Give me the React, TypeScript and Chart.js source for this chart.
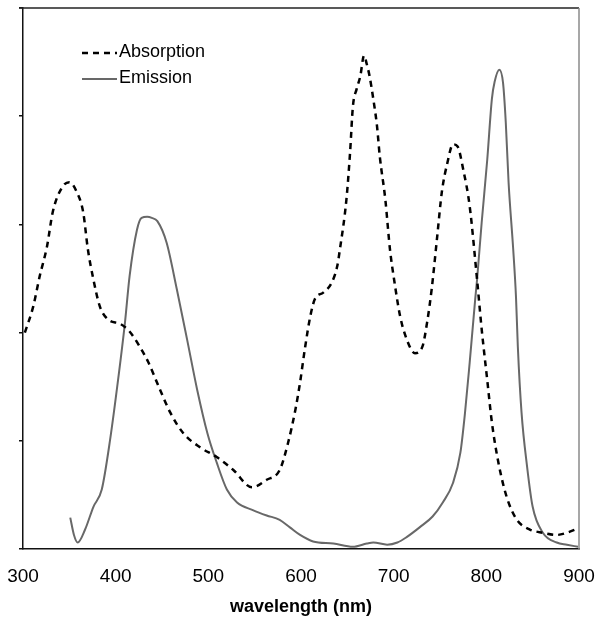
import { useEffect, useRef } from "react";
import { Chart, registerables } from "chart.js";

Chart.register(...registerables);

const seriesNames = ["Absorption", "Emission"];
const xAxisTitle = "wavelength (nm)";
const xTickValues = [300, 400, 500, 600, 700, 800, 900];

const absorptionWavelength = [
  302, 311, 318, 326, 332, 342, 350, 358, 365, 370, 376, 383, 392, 405, 415, 426, 435, 448, 459, 473,
  491, 509, 527, 547, 563, 577, 586, 594, 599, 604, 610, 615, 624, 633, 639, 642, 649, 653, 656, 660,
  664, 668, 671, 674, 678, 682, 685, 691, 696, 701, 707, 714, 723, 731, 736, 741, 747, 752, 758, 764,
  769, 775, 782, 790, 795, 801, 806, 813, 822, 833, 847, 861, 876, 887, 899,
];
const absorptionValue = [
  2.0, 2.24, 2.52, 2.8, 3.11, 3.34, 3.39, 3.3, 3.11, 2.77, 2.49, 2.24, 2.12, 2.08, 2.01, 1.87, 1.73, 1.47, 1.26, 1.07,
  0.94, 0.85, 0.73, 0.57, 0.64, 0.73, 0.98, 1.29, 1.54, 1.84, 2.15, 2.31, 2.37, 2.46, 2.61, 2.77, 3.23, 3.67, 4.09, 4.25,
  4.37, 4.56, 4.48, 4.37, 4.16, 3.91, 3.63, 3.23, 2.77, 2.46, 2.15, 1.94, 1.81, 1.87, 2.09, 2.4, 2.89, 3.3, 3.57, 3.74,
  3.72, 3.51, 3.17, 2.49, 2.03, 1.56, 1.17, 0.8, 0.48, 0.27, 0.18, 0.15, 0.13, 0.15, 0.19,
];

const emissionWavelength = [
  351, 355, 359, 367, 376, 385, 394, 403, 410, 415, 423, 428, 434, 439, 445, 455, 466, 477, 488, 499,
  509, 520, 531, 548, 563, 577, 588, 599, 613, 635, 656, 671, 678, 693, 704, 714, 728, 742, 753, 764,
  772, 777, 782, 788, 790, 795, 801, 806, 809, 814, 818, 821, 824, 829, 832, 834, 838, 844, 850, 861,
  876, 887, 899,
];
const emissionValue = [
  0.29, 0.13, 0.06, 0.18, 0.39, 0.55, 1.01, 1.59, 2.09, 2.52, 2.95, 3.06, 3.07, 3.06, 3.03, 2.83, 2.4, 1.94, 1.47, 1.07,
  0.8, 0.55, 0.43, 0.36, 0.31, 0.27, 0.2, 0.13, 0.07, 0.05, 0.02, 0.05, 0.06, 0.04, 0.06, 0.11, 0.2, 0.3, 0.43, 0.61,
  0.89, 1.26, 1.72, 2.31, 2.49, 3.02, 3.6, 4.16, 4.32, 4.43, 4.31, 3.94, 3.39, 2.77, 2.33, 1.87, 1.26, 0.76, 0.39, 0.15,
  0.06, 0.04, 0.02,
];

const FONT = "'Liberation Sans', Arial, sans-serif";

const framePlugin = {
  id: "frame",
  afterDatasetsDraw(chart: any) {
    const { ctx, chartArea: ca } = chart;
    ctx.save();
    ctx.lineWidth = 1.5;
    ctx.strokeStyle = "#222";
    ctx.beginPath();
    ctx.moveTo(ca.left - 4, ca.top);
    ctx.lineTo(ca.right, ca.top);
    ctx.stroke();
    ctx.strokeStyle = "#8a8a8a";
    ctx.beginPath();
    ctx.moveTo(ca.right, ca.top);
    ctx.lineTo(ca.right, ca.bottom);
    ctx.stroke();
    ctx.restore();
  },
};

const legendPlugin = {
  id: "insideLegend",
  afterDraw(chart: any) {
    const { ctx, chartArea: ca } = chart;
    chart.data.datasets.forEach((ds: any, i: number) => {
      const y = ca.top + 45 + i * 26;
      ctx.save();
      ctx.strokeStyle = ds.borderColor;
      ctx.lineWidth = ds.borderWidth;
      ctx.setLineDash(ds.borderDash || []);
      ctx.beginPath();
      ctx.moveTo(ca.left + 59, y);
      ctx.lineTo(ca.left + 94, y);
      ctx.stroke();
      ctx.setLineDash([]);
      ctx.fillStyle = "#000";
      ctx.font = `18px ${FONT}`;
      ctx.textBaseline = "middle";
      ctx.textAlign = "left";
      ctx.fillText(ds.label, ca.left + 96, y - 1);
      ctx.restore();
    });
  },
};

export default function App() {
  const ref = useRef<HTMLCanvasElement | null>(null);

  useEffect(() => {
    if (!ref.current) return;
    const chart = new Chart(ref.current, {
      type: "line",
      data: {
        datasets: [
          {
            label: seriesNames[0],
            data: absorptionWavelength.map((x, i) => ({ x, y: absorptionValue[i] })),
            borderColor: "#000000",
            borderWidth: 2.5,
            borderDash: [6, 5],
            pointRadius: 0,
            cubicInterpolationMode: "monotone",
            fill: false,
          },
          {
            label: seriesNames[1],
            data: emissionWavelength.map((x, i) => ({ x, y: emissionValue[i] })),
            borderColor: "#686868",
            borderWidth: 2,
            pointRadius: 0,
            cubicInterpolationMode: "monotone",
            fill: false,
          },
        ],
      },
      options: {
        animation: false,
        responsive: false,
        maintainAspectRatio: false,
        devicePixelRatio: 1,
        layout: { padding: { top: 8, right: 23, bottom: 0, left: 0 } },
        plugins: { legend: { display: false }, tooltip: { enabled: false } },
        scales: {
          x: {
            type: "linear",
            min: 300,
            max: 900,
            afterBuildTicks: (scale: any) => {
              scale.ticks = xTickValues.map((v) => ({ value: v }));
            },
            afterFit: (scale: any) => {
              scale.height = 76;
              scale.paddingLeft = 0;
              scale.paddingRight = 0;
            },
            grid: { display: false },
            border: { display: true, color: "#111", width: 1.5 },
            ticks: {
              color: "#000",
              font: { family: FONT, size: 19 },
              padding: 8,
              maxRotation: 0,
            },
            title: {
              display: true,
              text: xAxisTitle,
              color: "#000",
              font: { family: FONT, size: 18, weight: "bold" },
              padding: { top: 0, bottom: 7 },
            },
          },
          y: {
            min: 0,
            max: 5,
            ticks: { display: false, stepSize: 1 },
            afterFit: (scale: any) => {
              scale.width = 23;
            },
            grid: {
              drawOnChartArea: false,
              drawTicks: true,
              tickLength: 4,
              color: "#111",
              lineWidth: 1.5,
            },
            border: { display: true, color: "#111", width: 1.5 },
          },
        },
      },
      plugins: [framePlugin, legendPlugin],
    });
    return () => chart.destroy();
  }, []);

  return (
    <div style={{ position: "fixed", left: 0, top: 0, width: 602, height: 625, background: "#fff" }}>
      <canvas ref={ref} width={602} height={625} style={{ width: 602, height: 625, display: "block" }} />
    </div>
  );
}
